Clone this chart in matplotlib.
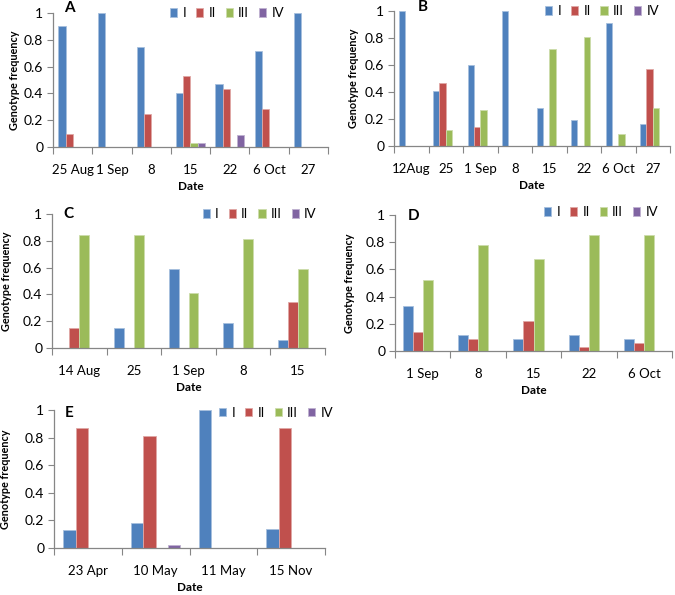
import numpy as np
import matplotlib.pyplot as plt

plt.rcParams['font.family'] = ['Lato', 'DejaVu Sans']

series = ["I", "II", "III", "IV"]
colors = ["#4F81BD", "#C0504D", "#9BBB59", "#8064A2"]
edges = ["#A7C0DE", "#E0A8A6", "#CDDDAC", "#BFB1D0"]

# panel A
dates_a = ["25 Aug", "1 Sep", "8", "15", "22", "6 Oct", "27"]
a_I = [0.90, 1.00, 0.75, 0.40, 0.47, 0.72, 1.00]
a_II = [0.10, 0, 0.25, 0.53, 0.43, 0.28, 0]
a_III = [0, 0, 0, 0.03, 0, 0, 0]
a_IV = [0, 0, 0, 0.03, 0.09, 0, 0]

# panel B
dates_b = ["12Aug", "25", "1 Sep", "8", "15", "22", "6 Oct", "27"]
b_I = [1.00, 0.41, 0.60, 1.00, 0.28, 0.19, 0.91, 0.16]
b_II = [0, 0.47, 0.14, 0, 0, 0, 0, 0.57]
b_III = [0, 0.12, 0.27, 0, 0.72, 0.81, 0.09, 0.28]
b_IV = [0, 0, 0, 0, 0, 0, 0, 0]

# panel C
dates_c = ["14 Aug", "25", "1 Sep", "8", "15"]
c_I = [0, 0.15, 0.59, 0.19, 0.06]
c_II = [0.15, 0, 0, 0, 0.34]
c_III = [0.84, 0.84, 0.41, 0.81, 0.59]
c_IV = [0, 0, 0, 0, 0]

# panel D
dates_d = ["1 Sep", "8", "15", "22", "6 Oct"]
d_I = [0.33, 0.12, 0.09, 0.12, 0.09]
d_II = [0.14, 0.09, 0.22, 0.03, 0.06]
d_III = [0.52, 0.78, 0.68, 0.85, 0.85]
d_IV = [0, 0, 0, 0, 0]

# panel E
dates_e = ["23 Apr", "10 May", "11 May", "15 Nov"]
e_I = [0.13, 0.18, 1.00, 0.14]
e_II = [0.87, 0.81, 0, 0.87]
e_III = [0, 0, 0, 0]
e_IV = [0, 0.02, 0, 0]

W, H = 675, 595
fig = plt.figure(figsize=(W / 100, H / 100), dpi=100)


def px_axes(left, top, right, bottom):
    return fig.add_axes([left / W, 1 - bottom / H, (right - left) / W, (bottom - top) / H])


def panel(ax, letter, dates, vals, letter_xy, leg_xy, ylabelpad=5):
    n = len(dates)
    x = np.arange(n)
    w = 1 / 5.5
    for k, (name, v) in enumerate(zip(series, vals)):
        ax.bar(x + (k - 1.5) * w, v, width=w, color=colors[k], edgecolor=edges[k],
               linewidth=0.6, label=name, zorder=2)
    ax.set_xlim(-0.5, n - 0.5)
    ax.set_ylim(0, 1)
    ax.set_yticks([0, 0.2, 0.4, 0.6, 0.8, 1.0])
    ax.set_yticklabels(["0", "0.2", "0.4", "0.6", "0.8", "1"], fontsize=10)
    ax.set_xticks(np.arange(n + 1) - 0.5)
    ax.set_xticklabels([])
    ax.set_xticks(x, minor=True)
    ax.set_xticklabels(dates, minor=True, fontsize=9.5)
    ax.tick_params(axis='x', which='major', length=5, color='#868686', direction='out')
    ax.tick_params(axis='x', which='minor', length=0, pad=12)
    ax.tick_params(axis='y', length=4, color='#868686', direction='out', pad=3)
    for s in ['top', 'right']:
        ax.spines[s].set_visible(False)
    for s in ['left', 'bottom']:
        ax.spines[s].set_color('#868686')
        ax.spines[s].set_linewidth(0.9)
    ax.set_xlabel("Date", fontsize=8.5, fontweight='bold', labelpad=4)
    ax.set_ylabel("Genotype frequency", fontsize=7.8, fontweight='bold', labelpad=ylabelpad)
    ax.text(letter_xy[0], letter_xy[1], letter, transform=ax.transAxes, fontsize=11,
            fontweight='bold', va='center', ha='left')
    ax.legend(loc='center right', bbox_to_anchor=leg_xy, ncol=4, frameon=False,
              fontsize=9.5, handlelength=0.55, handleheight=0.6, handletextpad=0.4,
              columnspacing=0.75, borderaxespad=0, borderpad=0)


panel(px_axes(53, 13, 328, 147), "A", dates_a, [a_I, a_II, a_III, a_IV],
      (0.04, 1.04), (0.84, 1.0), ylabelpad=3)
panel(px_axes(394, 11, 670, 146), "B", dates_b, [b_I, b_II, b_III, b_IV],
      (0.085, 1.03), (0.96, 1.0), ylabelpad=4)
panel(px_axes(52, 214, 325, 348), "C", dates_c, [c_I, c_II, c_III, c_IV],
      (0.04, 1.0), (0.97, 1.0), ylabelpad=8)
panel(px_axes(395, 215, 672, 351), "D", dates_d, [d_I, d_II, d_III, d_IV],
      (0.045, 0.99), (0.95, 1.02), ylabelpad=8)
panel(px_axes(54, 410, 325, 548), "E", dates_e, [e_I, e_II, e_III, e_IV],
      (0.04, 0.98), (1.03, 0.98), ylabelpad=10)

fig.savefig("out.png", dpi=100)
